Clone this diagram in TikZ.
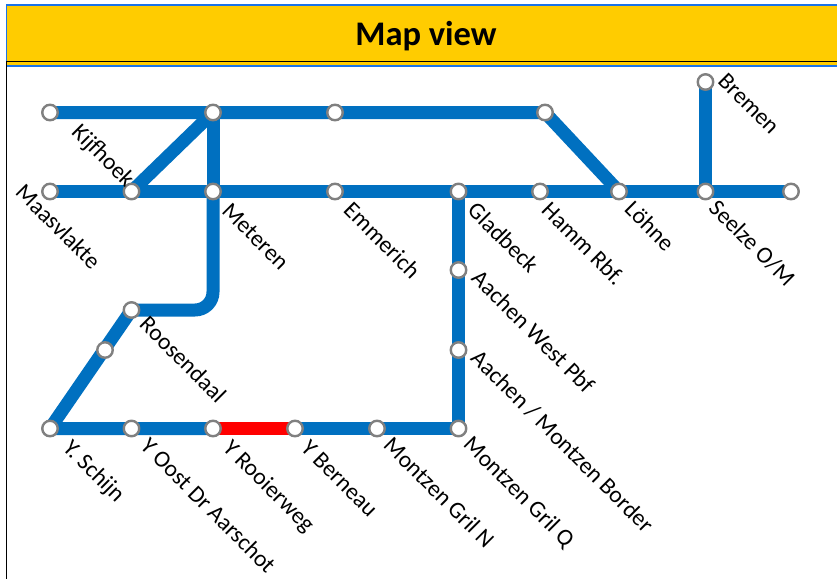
\documentclass[tikz,border=0pt]{standalone}
\usepackage{fontspec}
\setmainfont{Carlito}
\begin{document}
\begin{tikzpicture}[x=1pt,y=-1pt,
  track/.style={line width=13pt,color=trackblue,line cap=butt,line join=round},
  closed/.style={line width=13pt,color=red},
  stn/.style={circle,draw=stngray,fill=white,line width=2.4pt,minimum size=15.5pt,inner sep=0pt},
  lbl/.style={rotate=-45,anchor=west,font=\fontsize{23.5}{26}\selectfont,inner sep=0pt,text=black}]
\definecolor{trackblue}{RGB}{0,112,192}
\definecolor{stngray}{RGB}{128,128,128}
\definecolor{headgold}{RGB}{255,204,0}
\definecolor{edgeblue}{RGB}{26,115,232}
\useasboundingbox (0,0) rectangle (837,579);
\fill[white] (0,0) rectangle (837,579);
\fill[headgold] (6,5) rectangle (837,66);
\draw[edgeblue,line width=1.6pt] (837,5) -- (6.5,5) -- (6.5,66) -- (837,66);
\draw[black,line width=1.3pt] (837,61.5) -- (6.5,61.5) -- (6.5,579);
\node[font=\fontsize{34.5}{38}\selectfont\bfseries,inner sep=0pt] (title) at (426,36) {Map view};
% stations
\foreach \n/\x/\y in {a1/50/112.5,a2/213/112.5,a3/335/112.5,a4/545/112.5,
  b1/50/191.5,b2/131.5/191.5,b3/213/191.5,b4/335/191.5,b5/458.5/191.5,b6/540/191.5,b7/619/191.5,b8/705.5/191.5,b9/791/191.5,
  br/705.5/82,r1/131.5/310,r2/105/350,
  c1/50/428.5,c2/131.5/428.5,c3/213/428.5,c4/295/428.5,c5/377/428.5,c6/458.5/428.5,
  d1/458.5/270,d2/458.5/350}
  \coordinate (\n) at (\x,\y);
\coordinate (bend) at (213,310);
\draw[track] (a1) -- (a4) -- (b7);
\draw[track] (b1) -- (b9);
\draw[track] (b2) -- (a2);
\draw[track] (a2) -- (b3);
\draw[track] (br) -- (b8);
\draw[track,rounded corners=18pt] (b3) -- (bend) -- (r1);
\draw[track] (r1) -- (c1) -- (c3);
\draw[closed] (c3) -- (c4);
\draw[track] (c4) -- (c6) -- (b5);
\foreach \n in {a1,a2,a3,a4,b1,b2,b3,b4,b5,b6,b7,b8,b9,br,r1,r2,c1,c2,c3,c4,c5,c6,d1,d2}
  \node[stn] (s\n) at (\n) {};
% labels
\node[lbl] (t1) at (75,129) {Kijfhoek};
\node[lbl] (t2) at (20,188) {Maasvlakte};
\node[lbl] (t3) at (226,207) {Meteren};
\node[lbl] (t4) at (348,206) {Emmerich};
\node[lbl] (t5) at (472,206) {Gladbeck};
\node[lbl] (t6) at (546,206) {Hamm Rbf.};
\node[lbl] (t7) at (629,205) {Löhne};
\node[lbl] (t8) at (713,204) {Seelze O/M};
\node[lbl] (t9) at (722,77) {Bremen};
\node[lbl] (t10) at (476,274) {Aachen West Pbf};
\node[lbl] (t11) at (475,354) {Aachen / Montzen Border};
\node[lbl] (t12) at (144,320) {Roosendaal};
\node[lbl] (t13) at (66,445) {Y. Schijn};
\node[lbl] (t14) at (145,442) {Y Oost Dr Aarschot};
\node[lbl] (t15) at (226,445) {Y Rooierweg};
\node[lbl] (t16) at (305,444) {Y Berneau};
\node[lbl] (t17) at (388,441) {Montzen Gril N};
\node[lbl] (t18) at (467,441) {Montzen Gril Q};
\end{tikzpicture}
\end{document}
